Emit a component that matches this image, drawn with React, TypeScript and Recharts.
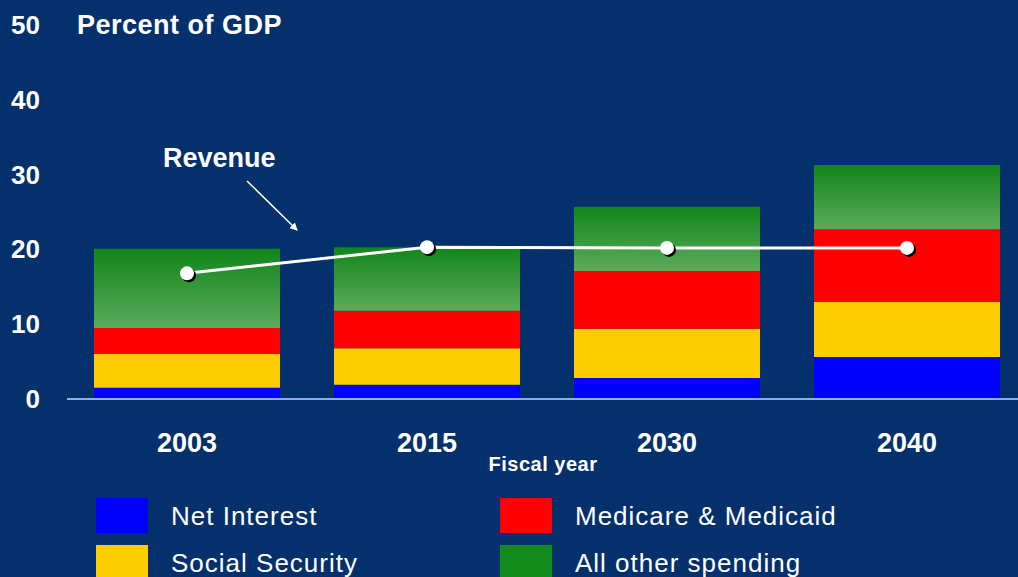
import React from 'react';
import { Bar, ComposedChart, Line, XAxis, YAxis } from 'recharts';

const years = ['2003', '2015', '2030', '2040'];
const netInterest = [1.5, 1.9, 2.8, 5.6];
const socialSecurity = [4.5, 4.9, 6.6, 7.4];
const medicare = [3.5, 5.0, 7.7, 9.7];
const otherSpending = [10.6, 8.5, 8.6, 8.6];
const revenue = [16.8, 20.3, 20.2, 20.2];
const yTicks = [0, 10, 20, 30, 40, 50];

const BG = '#04306b';
const FONT = '"Liberation Sans", Arial, sans-serif';

const legendItems = [
    { name: 'Net Interest', color: '#0000ff', col: 0, row: 0 },
    { name: 'Medicare & Medicaid', color: '#ff0000', col: 1, row: 0 },
    { name: 'Social Security', color: '#ffcc00', col: 0, row: 1 },
    { name: 'All other spending', color: '#128a1c', col: 1, row: 1 },
];

const data = years.map((year, i) => ({
    year,
    netInterest: netInterest[i],
    socialSecurity: socialSecurity[i],
    medicare: medicare[i],
    other: otherSpending[i],
    revenue: revenue[i],
}));

const YTick = ({ x, y, payload }: any) => (
    <text x={x - 27} y={y + 9} textAnchor="end" fill="#fff" fontSize={26} fontWeight="bold" fontFamily={FONT}>
        {payload.value}
    </text>
);

// x axis sits at the plot bottom; labels hang ~42px below it
const XTick = ({ x, y, payload }: any) => (
    <text x={x} y={y + 53} textAnchor="middle" fill="#fff" fontSize={27} fontWeight="bold" fontFamily={FONT}>
        {payload.value}
    </text>
);

const RevenueDot = ({ cx, cy }: any) => (
    <g>
        <circle cx={cx + 2} cy={cy + 2} r={7} fill="#000" />
        <circle cx={cx} cy={cy} r={7} fill="#fff" />
    </g>
);

const App = () => {
    return (
        <div
            style={{
                position: 'absolute',
                left: 0,
                top: 0,
                width: 1018,
                height: 577,
                overflow: 'hidden',
                background: BG,
            }}
        >
            <ComposedChart
                width={1027}
                height={577}
                data={data}
                margin={{ top: 25, right: 0, bottom: 138, left: 0 }}
                barCategoryGap={0}
            >
                <defs>
                    <linearGradient id="otherGrad" x1="0" y1="0" x2="0" y2="1">
                        <stop offset="0%" stopColor="#11851a" />
                        <stop offset="100%" stopColor="#5cab5c" />
                    </linearGradient>
                </defs>
                <XAxis
                    dataKey="year"
                    height={40}
                    tickSize={0}
                    tickMargin={0}
                    tickLine={false}
                    axisLine={{ stroke: '#8fb0e0', strokeWidth: 2 }}
                    tick={<XTick />}
                    interval={0}
                />
                <YAxis
                    width={67}
                    domain={[0, 50]}
                    ticks={yTicks}
                    tickSize={0}
                    tickMargin={0}
                    tickLine={false}
                    axisLine={false}
                    tick={<YTick />}
                    interval={0}
                />
                <Bar dataKey="netInterest" stackId="a" fill="#0000ff" barSize={186} isAnimationActive={false} />
                <Bar dataKey="socialSecurity" stackId="a" fill="#ffcc00" barSize={186} isAnimationActive={false} />
                <Bar dataKey="medicare" stackId="a" fill="#ff0000" barSize={186} isAnimationActive={false} />
                <Bar dataKey="other" stackId="a" fill="url(#otherGrad)" barSize={186} isAnimationActive={false} />
                <Line
                    dataKey="revenue"
                    type="linear"
                    stroke="#fff"
                    strokeWidth={3}
                    dot={<RevenueDot />}
                    activeDot={false}
                    isAnimationActive={false}
                />
            </ComposedChart>
            <svg
                width={1018}
                height={577}
                style={{ position: 'absolute', left: 0, top: 0, pointerEvents: 'none' }}
                fontFamily={FONT}
            >
                <defs>
                    <marker id="arrowHead" markerWidth="8" markerHeight="8" refX="7" refY="4" orient="auto" markerUnits="userSpaceOnUse">
                        <path d="M0,0 L8,4 L0,8 Z" fill="#fff" />
                    </marker>
                </defs>
                <text x={77} y={34} fill="#fff" fontSize={27} fontWeight="bold" letterSpacing={0.5}>
                    Percent of GDP
                </text>
                <text x={163} y={167} fill="#fff" fontSize={27} fontWeight="bold">
                    Revenue
                </text>
                <line x1={247} y1={181} x2={297} y2={230} stroke="#fff" strokeWidth={1.5} markerEnd="url(#arrowHead)" />
                <text x={543} y={471} textAnchor="middle" fill="#fff" fontSize={20} fontWeight="bold" letterSpacing={0.5}>
                    Fiscal year
                </text>
                {legendItems.map((item) => {
                    const sx = item.col === 0 ? 96 : 500;
                    const sy = item.row === 0 ? 498 : 545;
                    return (
                        <g key={item.name}>
                            <rect x={sx} y={sy} width={52} height={35} fill={item.color} />
                            <text x={sx + 75} y={sy + 27} fill="#fff" fontSize={26} letterSpacing={1}>
                                {item.name}
                            </text>
                        </g>
                    );
                })}
            </svg>
        </div>
    );
};

export default App;
